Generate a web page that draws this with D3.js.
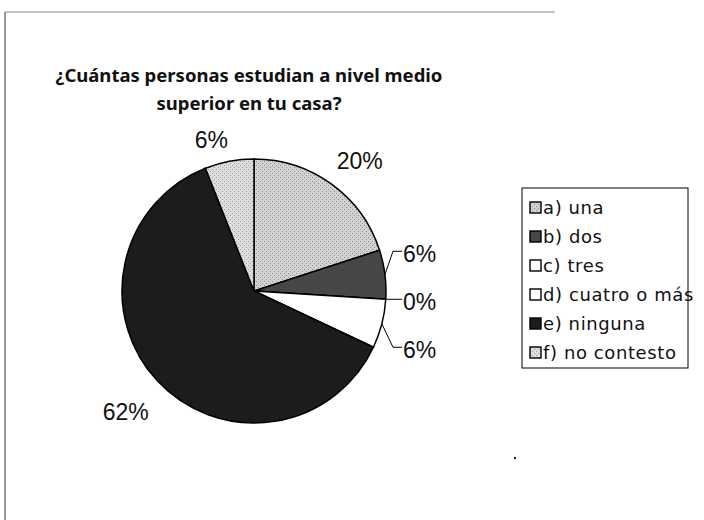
<!DOCTYPE html>
<html>
<head>
<meta charset="utf-8">
<script src="https://cdn.jsdelivr.net/npm/d3@7"></script>
<style>
  body { margin: 0; background: #fff; }
</style>
</head>
<body>
<div id="chart"></div>
<script>
// data
var categories = ["a) una", "b) dos", "c) tres", "d) cuatro o más", "e) ninguna", "f) no contesto"];
var counts = [10, 3, 0, 3, 31, 3];
var percentLabels = ["20%", "6%", "0%", "6%", "62%", "6%"];
var fills = ["url(#dotsA)", "#474747", "#ffffff", "#ffffff", "#1c1c1c", "url(#dotsF)"];

var width = 704, height = 520;
var cx = 254, cy = 291, radius = 132;

var svg = d3.select("#chart")
    .append("svg")
    .attr("width", width)
    .attr("height", height);

// patterns for the light slices
var defs = svg.append("defs");
function dotPattern(id, bg, dot) {
  var p = defs.append("pattern")
      .attr("id", id)
      .attr("patternUnits", "userSpaceOnUse")
      .attr("width", 4).attr("height", 4);
  p.append("rect").attr("width", 4).attr("height", 4).attr("fill", bg);
  p.append("rect").attr("x", 0).attr("y", 0).attr("width", 1).attr("height", 1).attr("fill", dot);
  p.append("rect").attr("x", 2).attr("y", 2).attr("width", 1).attr("height", 1).attr("fill", dot);
}
dotPattern("dotsA", "#d2d2d2", "#8a8a8a");
dotPattern("dotsF", "#dedede", "#9a9a9a");

// frame (partial border as in the scan)
svg.append("line").attr("x1", 5).attr("x2", 555).attr("y1", 12).attr("y2", 12)
    .attr("stroke", "#888").attr("stroke-width", 1);
svg.append("line").attr("x1", 5).attr("x2", 5).attr("y1", 12).attr("y2", 520)
    .attr("stroke", "#333").attr("stroke-width", 1);

// title
var title = svg.append("text")
    .attr("text-anchor", "middle")
    .style("font-family", "'Noto Sans', sans-serif")
    .style("font-weight", "bold")
    .style("font-size", "18.5px")
    .attr("fill", "#111");
title.append("tspan").attr("x", 249).attr("y", 82).text("¿Cuántas personas estudian a nivel medio");
title.append("tspan").attr("x", 249).attr("y", 110).text("superior en tu casa?");

var pie = d3.pie().sort(null).value(function(d) { return d; });
var arcs = pie(counts);
var arc = d3.arc().innerRadius(0).outerRadius(radius);

var g = svg.append("g").attr("transform", "translate(" + cx + "," + cy + ")");

g.selectAll("path.slice")
  .data(arcs)
  .enter()
  .append("path")
    .attr("class", "slice")
    .attr("d", arc)
    .attr("fill", function(d, i) { return fills[i]; })
    .attr("stroke", "#000")
    .attr("stroke-width", 1.5);

// outer labels for big slices (radius / angle nudge per slice)
var outer = [0, 4, 5];
var labelR = { 0: 168, 4: 176, 5: 157 };
var nudge = { 0: 3, 4: 0, 5: -5 };
outer.forEach(function(i) {
  var a = (arcs[i].startAngle + arcs[i].endAngle) / 2 + nudge[i] * Math.PI / 180;
  g.append("text")
    .attr("x", Math.sin(a) * labelR[i])
    .attr("y", -Math.cos(a) * labelR[i])
    .attr("dy", "0.35em")
    .attr("text-anchor", "middle")
    .style("font-family", "'Liberation Sans', Arial, sans-serif")
    .style("font-size", "23px")
    .attr("fill", "#111")
    .text(percentLabels[i]);
});

// leader-line labels for the small slices on the right
var small = [1, 2, 3];
var midA = (arcs[2].startAngle + arcs[2].endAngle) / 2;
var baseY = -Math.cos(midA) * radius;
small.forEach(function(i, k) {
  var a = (arcs[i].startAngle + arcs[i].endAngle) / 2;
  var sx = Math.sin(a) * radius, sy = -Math.cos(a) * radius;
  var ly = baseY + (k - 1) * 48;
  var ex = radius + 16;
  g.append("path")
    .attr("d", "M" + sx + "," + sy + "L" + (ex - 9) + "," + ly + "L" + ex + "," + ly)
    .attr("fill", "none")
    .attr("stroke", "#000")
    .attr("stroke-width", 1);
  g.append("text")
    .attr("x", ex + 1)
    .attr("y", ly + 3)
    .attr("dy", "0.35em")
    .style("font-family", "'Liberation Sans', Arial, sans-serif")
    .style("font-size", "23px")
    .attr("fill", "#111")
    .text(percentLabels[i]);
});

// legend
var lx = 522, ly0 = 188;
svg.append("rect")
    .attr("x", lx).attr("y", ly0)
    .attr("width", 166).attr("height", 180)
    .attr("fill", "#fff").attr("stroke", "#000").attr("stroke-width", 1);

var legend = svg.selectAll("g.leg")
  .data(categories)
  .enter()
  .append("g")
    .attr("class", "leg")
    .attr("transform", function(d, i) { return "translate(" + (lx + 8) + "," + (ly0 + 20 + i * 29) + ")"; });

legend.append("rect")
    .attr("x", 0).attr("y", -6)
    .attr("width", 11).attr("height", 11)
    .attr("fill", function(d, i) { return fills[i]; })
    .attr("stroke", "#000").attr("stroke-width", 1.4);

legend.append("text")
    .attr("x", 13)
    .attr("y", 0)
    .attr("dy", "0.35em")
    .style("font-family", "'DejaVu Sans', sans-serif")
    .style("font-size", "18px")
    .style("letter-spacing", "0.6px")
    .attr("fill", "#111")
    .text(function(d) { return d; });

// stray dot from the scan
svg.append("circle").attr("cx", 515).attr("cy", 458).attr("r", 1.2).attr("fill", "#222");
</script>
</body>
</html>
